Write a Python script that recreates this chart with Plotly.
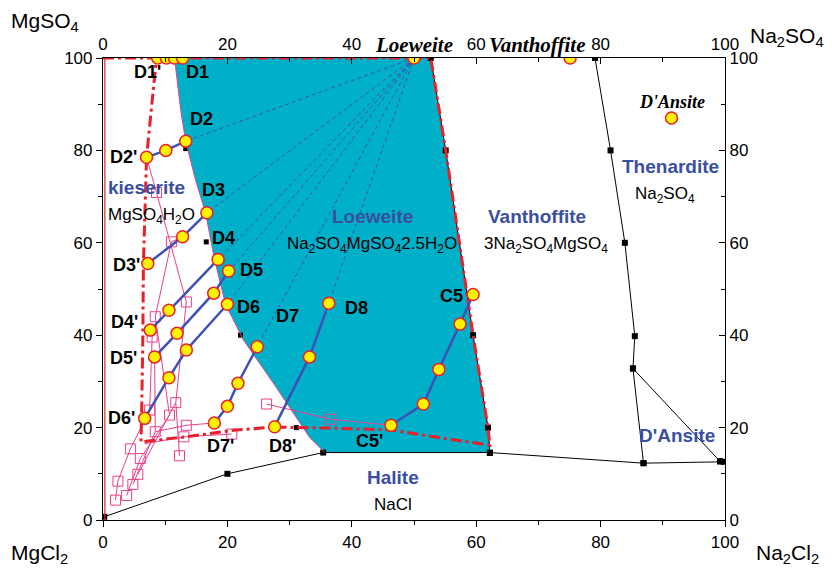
import plotly.graph_objects as go

# ---------------- data ----------------
# Loeweite stability field (cyan)
cyan_x = [11.5, 52.7, 55.1, 59.5, 61.9, 62.2, 35.6, 33.2, 27.6, 22.6, 19.7, 17.9, 16.5, 14.9, 13.3, 12.5, 11.5]
cyan_y = [100, 100, 80, 40, 20, 14.7, 14.7, 17.9, 29.2, 38.9, 46.7, 56.6, 66.4, 73.5, 81.9, 88.6, 100]
# left boundary of the loeweite field (magenta thin line)
lb_x = [11.5, 12.5, 13.3, 14.9, 16.5, 17.9, 19.7, 22.6, 27.6, 33.2, 35.6]
lb_y = [100, 88.6, 81.9, 73.5, 66.4, 56.6, 46.7, 38.9, 29.2, 17.9, 14.7]

# red dash-dot boundary
red_x = [0, 52.7, 55.1, 59.5, 61.9, 62.2, 53.7, 46.3, 36.4, 27.6, 21.4, 13.4, 6.1, 6.2, 6.4, 6.5, 7.0, 7.8, 8.6]
red_y = [100, 100, 80, 40, 20, 16.2, 17.9, 19.5, 19.9, 20.1, 19.5, 18.0, 16.9, 22.1, 38.9, 55.6, 78.5, 88.6, 100]

# black equilibrium lines (squares)
b1_x = [0.2, 20.0, 35.4, 62.2, 86.9, 99.2, 99.8]
b1_y = [0.7, 10.0, 14.6, 14.6, 12.3, 12.7, 12.6]
b2_x = [85.2, 99.2]
b2_y = [32.8, 12.7]
b3_x = [79.1, 81.6, 83.9, 85.5, 85.2, 86.9]
b3_y = [100, 80, 60, 39.8, 32.8, 12.3]
b4_x = [52.7, 55.1, 59.5, 61.9, 62.2]
b4_y = [100, 80, 40, 20, 14.5]
b5_x = [13.3, 16.6, 22.1, 31.1]
b5_y = [80.4, 60.2, 40.0, 20.0]

# tie lines (blue) with measured points
d1_x = [8.8, 10.2, 11.5, 12.8]
d1_y = [100, 100, 100, 100]
d2_x = [7.0, 10.1, 13.3]
d2_y = [78.5, 80.0, 82.0]
d3_x = [16.7, 12.8, 7.2]
d3_y = [66.5, 61.3, 55.5]
d4_x = [18.5, 10.6, 7.6]
d4_y = [56.4, 45.4, 41.1]
d5_x = [20.2, 17.8, 11.9, 8.3]
d5_y = [53.9, 49.1, 40.4, 35.3]
d6_x = [20.0, 13.4, 10.6, 6.7]
d6_y = [46.7, 36.8, 30.8, 22.0]
d7_x = [24.8, 21.7, 20.0, 17.9]
d7_y = [37.5, 29.6, 24.6, 21.0]
d8_x = [36.3, 33.2, 27.6]
d8_y = [46.9, 35.3, 20.2]
c5_x = [59.5, 57.4, 54.0, 51.5, 46.3]
c5_y = [48.8, 42.4, 32.6, 25.1, 20.5]
salt_x = [50.0, 75.1, 91.4]
salt_y = [100, 100, 87.0]

# dashed lines from the Loeweite point
loe_x, loe_y = 50.0, 100
fan_x = [13.3, 16.7, 18.5, 20.2, 20.0, 24.8, 36.3]
fan_y = [82.0, 66.5, 56.4, 53.9, 46.7, 37.5, 46.9]

# magenta open squares (earlier data)
sq_x = [8.6, 11.0, 13.4, 8.4, 7.9, 7.5, 11.7, 10.7, 13.4, 8.4, 13.0, 4.4, 6.0, 12.3, 20.7, 26.3, 36.6, 2.4, 5.6, 4.8, 3.8, 2.0]
sq_y = [70.9, 60.2, 47.2, 44.0, 39.6, 23.8, 25.4, 22.7, 20.5, 19.1, 18.0, 15.4, 13.3, 13.9, 18.6, 25.1, 21.8, 8.4, 9.9, 7.7, 5.3, 4.3]
m_lines = [
    ([7.0, 8.6, 13.4, 11.7, 12.3], [78.5, 70.9, 47.2, 25.4, 13.9]),
    ([12.8, 11.0, 8.4, 10.7, 6.0, 3.8], [61.3, 60.2, 44.0, 22.7, 13.3, 5.3]),
    ([7.6, 7.9, 7.5, 4.4, 2.4, 2.0], [41.1, 39.6, 23.8, 15.4, 8.4, 4.3]),
    ([8.3, 8.4, 4.8], [35.3, 19.1, 7.7]),
    ([8.4, 13.4, 17.9], [19.1, 20.5, 21.0]),
    ([6.7, 13.0, 20.7], [16.5, 18.0, 18.6]),
    ([5.6, 11.7], [9.9, 25.4]),
    ([26.3, 36.6, 46.3], [25.1, 21.8, 20.5]),
]

xticks = [0, 20, 40, 60, 80, 100]
yticks = [0, 20, 40, 60, 80, 100]

# ---------------- style ----------------
CYAN = "#00AFC8"
BLUE = "#3F51B5"
RED = "#E8202A"
PINK = "#E8408C"
YEL = "#FFF200"
TXTBLUE = "#3A4FA0"
FONT = "Arial, Liberation Sans, sans-serif"
SERIF = "Liberation Serif, Times New Roman, serif"

fig = go.Figure()

fig.add_trace(go.Scatter(x=cyan_x, y=cyan_y, fill="toself", fillcolor=CYAN,
                         mode="lines", line=dict(width=0), hoverinfo="skip"))

# black lines
for bx, by in [(b1_x, b1_y), (b2_x, b2_y), (b3_x, b3_y), (b4_x, b4_y)]:
    fig.add_trace(go.Scatter(x=bx, y=by, mode="lines+markers",
                             line=dict(color="black", width=1),
                             marker=dict(symbol="square", size=6, color="black")))
fig.add_trace(go.Scatter(x=b5_x, y=b5_y, mode="markers",
                         marker=dict(symbol="square", size=5, color="black")))
fig.add_trace(go.Scatter(x=lb_x, y=lb_y, mode="lines", line=dict(color=PINK, width=1)))

# dashed fan lines
for fx, fy in zip(fan_x, fan_y):
    fig.add_trace(go.Scatter(x=[loe_x, fx], y=[loe_y, fy], mode="lines",
                             line=dict(color=BLUE, width=1, dash="4px,3px")))

# magenta lines & squares
fig.add_trace(go.Scatter(x=[0.3, 0.3], y=[0, 100], mode="lines", line=dict(color=RED, width=1.2)))
for mx, my in m_lines:
    fig.add_trace(go.Scatter(x=mx, y=my, mode="lines", line=dict(color=PINK, width=1)))
fig.add_trace(go.Scatter(x=sq_x, y=sq_y, mode="markers",
                         marker=dict(symbol="square-open", size=10, color=PINK, line=dict(width=1))))

# red dash-dot boundary
fig.add_trace(go.Scatter(x=red_x, y=red_y, mode="lines",
                         line=dict(color=RED, width=3, dash="11px,4px,3px,4px")))

# blue tie lines with yellow points
circ = dict(symbol="circle", size=12, color=YEL, line=dict(color=RED, width=1.5))
for tx, ty in [(d2_x, d2_y), (d3_x, d3_y), (d4_x, d4_y), (d5_x, d5_y),
               (d6_x, d6_y), (d7_x, d7_y), (d8_x, d8_y), (c5_x, c5_y)]:
    fig.add_trace(go.Scatter(x=tx, y=ty, mode="lines+markers",
                             line=dict(color=BLUE, width=2.5), marker=circ))
fig.add_trace(go.Scatter(x=d1_x, y=d1_y, mode="markers", marker=circ))
fig.add_trace(go.Scatter(x=salt_x, y=salt_y, mode="markers", marker=circ))

# invisible traces for secondary axes
fig.add_trace(go.Scatter(x=[0, 100], y=[0, 100], xaxis="x2", yaxis="y2", mode="markers",
                         marker=dict(opacity=0), hoverinfo="skip"))

# ---------------- annotations ----------------
def ann(x, y, text, size=15, color="black", bold=True, italic=False, family=FONT,
        xref="x", yref="y"):
    t = text
    if bold:
        t = "<b>" + t + "</b>"
    if italic:
        t = "<i>" + t + "</i>"
    fig.add_annotation(x=x, y=y, xref=xref, yref=yref, text=t, showarrow=False,
                       xanchor="center", yanchor="middle",
                       font=dict(size=size, color=color, family=family))

labels = [
    (7.2, 96.9, "D1'"), (15.2, 96.9, "D1"), (15.9, 86.9, "D2"), (3.3, 78.5, "D2'"),
    (17.7, 71.4, "D3"), (19.3, 61.0, "D4"), (3.7, 55.1, "D3'"), (23.8, 54.1, "D5"),
    (3.5, 42.8, "D4'"), (23.4, 46.1, "D6"), (29.6, 44.1, "D7"), (40.7, 45.8, "D8"),
    (3.3, 35.0, "D5'"), (3.0, 22.1, "D6'"), (18.9, 16.0, "D7'"), (28.9, 16.0, "D8'"),
    (42.9, 17.1, "C5'"), (56.0, 48.4, "C5"),
]
for lx, ly, lt in labels:
    ann(lx, ly, lt, size=18)

ann(7.0, 72.0, "kieserite", size=19, color=TXTBLUE)
ann(7.8, 65.9, "MgSO<sub>4</sub>H<sub>2</sub>O", size=17, bold=False)
ann(43.3, 65.7, "Loeweite", size=19, color=TXTBLUE)
ann(43.2, 59.6, "Na<sub>2</sub>SO<sub>4</sub>MgSO<sub>4</sub>2.5H<sub>2</sub>O", size=17, bold=False)
ann(69.8, 65.7, "Vanthoffite", size=19, color=TXTBLUE)
ann(71.3, 59.6, "3Na<sub>2</sub>SO<sub>4</sub>MgSO<sub>4</sub>", size=17, bold=False)
ann(91.3, 76.5, "Thenardite", size=19, color=TXTBLUE)
ann(90.3, 70.3, "Na<sub>2</sub>SO<sub>4</sub>", size=17, bold=False)
ann(91.5, 90.5, "D'Ansite", size=18, italic=True, family=SERIF)
ann(92.3, 18.2, "D'Ansite", size=19, color=TXTBLUE)
ann(46.6, 9.1, "Halite", size=19, color=TXTBLUE)
ann(46.6, 3.3, "NaCl", size=17, bold=False)
ann(0.4996, 1.028, "Loeweite", size=21, italic=True, family=SERIF, xref="paper", yref="paper")
ann(0.6975, 1.028, "Vanthoffite", size=21, italic=True, family=SERIF, xref="paper", yref="paper")

# corner axis titles
ann(-0.094, 1.077, "MgSO<sub>4</sub>", size=21, bold=False, xref="paper", yref="paper")
ann(1.10, 1.045, "Na<sub>2</sub>SO<sub>4</sub>", size=21, bold=False, xref="paper", yref="paper")
ann(-0.102, -0.073, "MgCl<sub>2</sub>", size=21, bold=False, xref="paper", yref="paper")
ann(1.10, -0.073, "Na<sub>2</sub>Cl<sub>2</sub>", size=21, bold=False, xref="paper", yref="paper")

# ---------------- axes ----------------
common = dict(range=[0, 100], showgrid=False, zeroline=False, showline=True, linecolor="black",
              linewidth=1.2, tickvals=xticks, ticklen=6, tickcolor="black", tickwidth=1,
              tickfont=dict(size=17, family=FONT, color="black"))

fig.update_layout(
    width=824, height=568,
    margin=dict(l=95, r=107, t=50, b=56),
    paper_bgcolor="white", plot_bgcolor="white",
    showlegend=False,
    font=dict(family=FONT),
    xaxis=dict(**common, ticks="outside",
               minor=dict(dtick=10, ticklen=4, ticks="outside", tickcolor="black")),
    yaxis=dict(**common, ticks="outside",
               minor=dict(dtick=10, ticklen=4, ticks="outside", tickcolor="black")),
    xaxis2=dict(**common, overlaying="x", side="top", ticks="inside",
                minor=dict(dtick=10, ticklen=4, ticks="inside", tickcolor="black")),
    yaxis2=dict(**common, overlaying="y", side="right", ticks="inside",
                minor=dict(dtick=10, ticklen=4, ticks="inside", tickcolor="black")),
)

fig.write_html("out.html")
